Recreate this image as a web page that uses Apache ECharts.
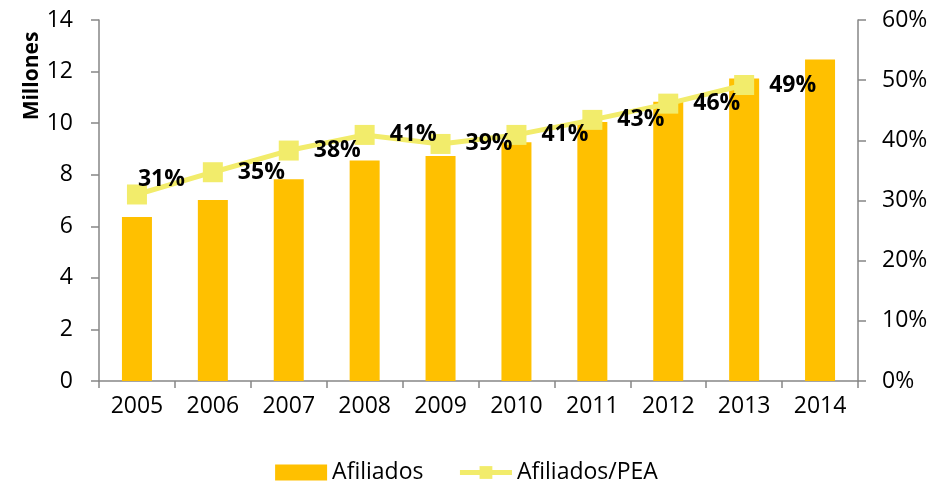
<!DOCTYPE html>
<html>
<head>
<meta charset="utf-8">
<script src="https://cdn.jsdelivr.net/npm/echarts@6/dist/echarts.min.js"></script>
<style>
html,body{margin:0;padding:0;background:#fff;}
#chart{width:933px;height:483px;}
</style>
</head>
<body>
<div id="chart"></div>
<script>
var categories = ['2005','2006','2007','2008','2009','2010','2011','2012','2013','2014'];
var afiliados = [6.36, 7.02, 7.82, 8.55, 8.73, 9.26, 10.04, 10.83, 11.73, 12.47];
var afiliadosPEA = [31.0, 34.7, 38.3, 40.9, 39.4, 40.9, 43.4, 46.1, 49.2, null];
var leftTicks = {min: 0, max: 14, interval: 2};
var rightTicks = {min: 0, max: 60, interval: 10};

var FONT = 'Open Sans';
var axisGray = '#868686';
var lineColor = '#F2EC6B';

var lineData = afiliadosPEA.map(function (v, i) {
  if (i === 0) {
    return {value: v, label: {offset: [-24, -15]}};
  }
  return v;
});

var chart = echarts.init(document.getElementById('chart'), null, {renderer: 'canvas'});
chart.setOption({
  animation: false,
  textStyle: {fontFamily: FONT},
  grid: {left: 99, right: 75, top: 20, bottom: 102, containLabel: false},
  legend: {
    left: 'center',
    top: 456,
    itemWidth: 52,
    itemHeight: 16,
    itemGap: 34,
    lineStyle: {width: 5},
    textStyle: {fontFamily: FONT, fontSize: 23, color: '#000'},
    data: [
      {name: 'Afiliados', icon: 'rect'},
      {name: 'Afiliados/PEA', lineStyle: {width: 5, color: lineColor}}
    ]
  },
  graphic: [{
    type: 'text',
    x: 32,
    y: 76,
    rotation: Math.PI / 2,
    style: {
      text: 'Millones',
      fontFamily: FONT,
      fontSize: 21,
      fontWeight: 'bold',
      fill: '#000',
      align: 'center',
      verticalAlign: 'middle'
    }
  }],
  xAxis: {
    type: 'category',
    data: categories,
    axisLine: {lineStyle: {color: axisGray, width: 1.5}},
    axisTick: {show: true, length: 7, lineStyle: {color: axisGray, width: 1.5}},
    axisLabel: {fontFamily: FONT, fontSize: 23, color: '#000', margin: 14}
  },
  yAxis: [{
    type: 'value',
    min: leftTicks.min, max: leftTicks.max, interval: leftTicks.interval,
    axisLine: {show: true, lineStyle: {color: axisGray, width: 1.5}},
    axisTick: {show: true, length: 8, lineStyle: {color: axisGray, width: 1.5}},
    splitLine: {show: false},
    axisLabel: {fontFamily: FONT, fontSize: 23, color: '#000', margin: 26}
  }, {
    type: 'value',
    position: 'right',
    min: rightTicks.min, max: rightTicks.max, interval: rightTicks.interval,
    axisLine: {show: true, lineStyle: {color: axisGray, width: 1.5}},
    axisTick: {show: true, length: 8, lineStyle: {color: axisGray, width: 1.5}},
    splitLine: {show: false},
    axisLabel: {fontFamily: FONT, fontSize: 23, color: '#000', margin: 24,
      formatter: function (v) { return v + '%'; }}
  }],
  series: [{
    name: 'Afiliados',
    type: 'bar',
    yAxisIndex: 0,
    data: afiliados,
    barWidth: 30,
    itemStyle: {color: '#FFC000'},
    z: 2
  }, {
    name: 'Afiliados/PEA',
    type: 'line',
    yAxisIndex: 1,
    data: lineData,
    symbol: 'rect',
    symbolSize: 20,
    connectNulls: false,
    lineStyle: {color: lineColor, width: 5},
    itemStyle: {color: lineColor},
    label: {
      show: true,
      position: 'right',
      distance: 15,
      fontFamily: FONT,
      fontSize: 23,
      fontWeight: 'bold',
      color: '#000',
      formatter: function (p) { return Math.round(p.value) + '%'; }
    },
    z: 3
  }]
});
</script>
</body>
</html>
